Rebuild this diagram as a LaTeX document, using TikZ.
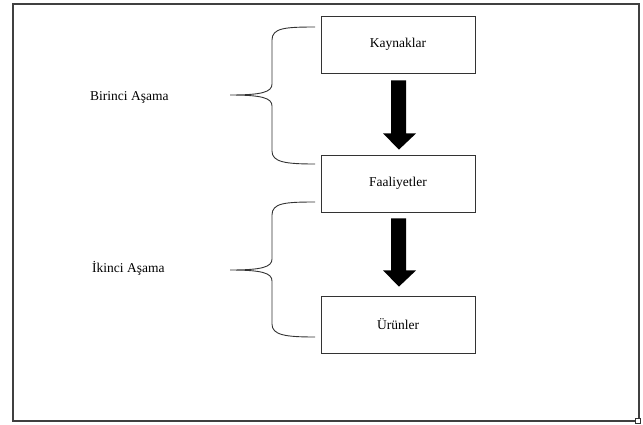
\documentclass[tikz,border=0pt]{standalone}
\usepackage{fontspec}
\setmainfont{Liberation Serif}
\usetikzlibrary{calc}
\begin{document}
\begin{tikzpicture}[x=1pt,y=-1pt,
  stagebox/.style={draw=black!80,line width=0.9pt,minimum width=154pt,minimum height=57pt,inner sep=0pt,font=\fontsize{13.5}{15}\selectfont},
  stagelabel/.style={anchor=west,inner sep=0pt,font=\fontsize{13.5}{15}\selectfont},
  bracepath/.style={draw=black!80,line width=0.9pt},
  blockarrow/.style={fill=black}]
\useasboundingbox (0,0) rectangle (643,424);
\draw[draw=black!75,line width=1.6pt] (13,4) rectangle (639,421);
\draw[draw=black!80,line width=0.6pt,fill=white] (635.5,418.5) rectangle (640,423);
% boxes
\node[stagebox] (k) at (398,44.5) {Kaynaklar};
\node[stagebox] (f) at (398,183.5) {Faaliyetler};
\node[stagebox] (u) at (398,324.5) {Ürünler};
% labels
\node[stagelabel] (b1) at (90,97) {Birinci Aşama};
\node[stagelabel] (b2) at (92,268) {İkinci Aşama};
% block arrows
\fill[blockarrow] ($(k.south)+(-7,7)$) -- ($(k.south)+(8,7)$) -- ($(k.south)+(8,60)$) -- ($(k.south)+(18,60)$)
  -- ($(f.north)+(1,-5)$) -- ($(k.south)+(-15,60)$) -- ($(k.south)+(-7,60)$) -- cycle;
\fill[blockarrow] ($(f.south)+(-7,6)$) -- ($(f.south)+(8,6)$) -- ($(f.south)+(8,58)$) -- ($(f.south)+(18,58)$)
  -- ($(u.north)+(1,-9)$) -- ($(f.south)+(-15,58)$) -- ($(f.south)+(-7,58)$) -- cycle;
% braces
\coordinate (t1) at (315,27);
\coordinate (m1) at (230,95);
\coordinate (e1) at (315,164);
\draw[bracepath] (t1) .. controls (285,27) and (272,28) .. (272,40) -- (272,84)
  .. controls (272,92) and (262,95) .. (m1)
  .. controls (262,95) and (272,98) .. (272,106) -- (272,151)
  .. controls (272,162) and (285,164) .. (e1);
\coordinate (t2) at (315,202);
\coordinate (m2) at (230,270);
\coordinate (e2) at (315,337);
\draw[bracepath] (t2) .. controls (285,202) and (272,203) .. (272,215) -- (272,259)
  .. controls (272,267) and (262,270) .. (m2)
  .. controls (262,270) and (272,273) .. (272,281) -- (272,324)
  .. controls (272,335) and (285,337) .. (e2);
\end{tikzpicture}
\end{document}
